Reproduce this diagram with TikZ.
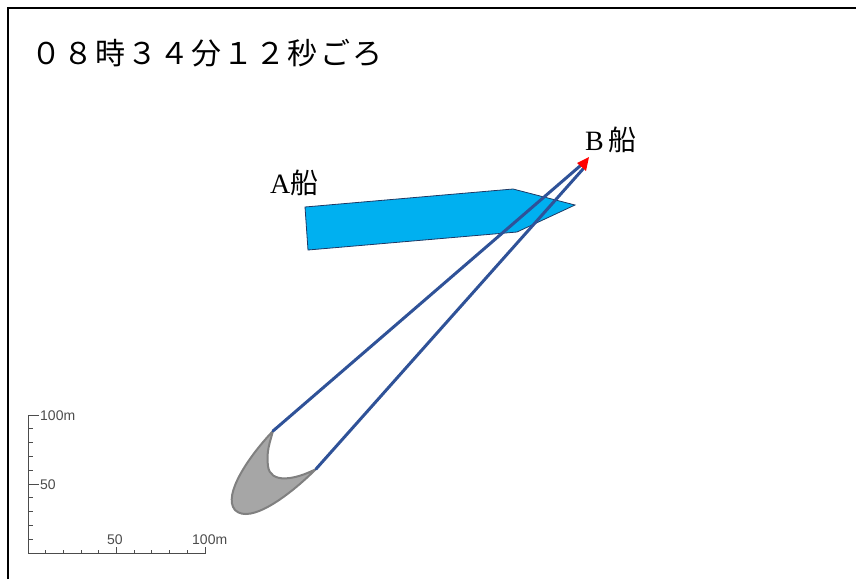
\documentclass[tikz,border=0pt]{standalone}
\usepackage{fontspec}
\setmainfont{Liberation Serif}
\newfontfamily\jpgothic{Noto Sans CJK JP}
\newfontfamily\jpwide[LetterSpace=7]{Noto Sans CJK JP}
\newfontfamily\rulerfont{Liberation Sans}
\usetikzlibrary{positioning}
\definecolor{hullcyan}{RGB}{0,176,240}
\definecolor{hulledge}{RGB}{31,56,100}
\definecolor{trackblue}{RGB}{47,82,152}
\definecolor{sterngray}{RGB}{166,166,166}
\definecolor{sternedge}{RGB}{128,128,128}
\tikzset{
    hullA/.style={fill=hullcyan, draw=hulledge, line width=0.8pt},
    track/.style={draw=trackblue, line width=3pt, line cap=round},
    stern/.style={fill=sterngray, draw=sternedge, line width=2pt},
    shiplabel/.style={inner sep=0pt, anchor=base west, font=\fontsize{28}{32}\selectfont},
    ruler/.style={draw=black!70, line width=1pt},
    rulerlabel/.style={inner sep=0pt, text=black!70, font=\rulerfont\fontsize{14}{16}\selectfont}
}

\begin{document}
\begin{tikzpicture}[x=1pt, y=-1pt]
    \useasboundingbox (0,0) rectangle (856,579);
    % frame
    \draw[line width=2pt] (8,579) -- (8,8) -- (856,8);

    \node[inner sep=0pt, anchor=base west, font=\jpwide\fontsize{30}{36}\selectfont] (title) at (31,64) {０８時３４分１２秒ごろ};

    % A vessel
    \filldraw[hullA] (305,207) -- (513,189) -- (575,205) -- (517,232) -- (308,250) -- cycle;
    \node[shiplabel] (labelA) at (270,193) {A{\jpgothic 船}};

    % B vessel: stern, sides and heading
    \coordinate (portAft) at (273,431);
    \coordinate (stbdAft) at (316,469);
    \coordinate (portFwd) at (580,166);
    \coordinate (stbdFwd) at (583,169);
    \filldraw[stern] (portAft) .. controls (250,455) and (222,495) .. (235,510)
        .. controls (250,525) and (290,495) .. (stbdAft)
        .. controls (295,480) and (270,484) .. (268,466)
        .. controls (266,452) and (270,442) .. (portAft) -- cycle;
    \draw[track] (portAft) -- (portFwd);
    \draw[track] (stbdAft) -- (stbdFwd);
    \coordinate (bowTip) at (589,157);
    \fill[red] (bowTip) -- (577,163) -- (586,171) -- cycle;
    \node[shiplabel] (labelB) at (585,150) {B\,{\jpgothic 船}};

    % distance scale
    \draw[ruler] (28,415) -- (28,553) -- (205,553) -- (205,547);
    \foreach \i in {1,...,9}
        \draw[ruler] (28,{553-\i*13.8}) -- ++(5,0);
    \draw[ruler] (28,415) -- ++(11,0);
    \draw[ruler] (28,484) -- ++(11,0);
    \foreach \i in {1,...,9}
        \draw[ruler] ({28+\i*17.7},553) -- ++(0,-3);
    \draw[ruler] (116.5,553) -- ++(0,-6);
    \node[rulerlabel, anchor=west] (v100) at (40,416) {100m};
    \node[rulerlabel, anchor=west] (v50) at (40,485) {50};
    \node[rulerlabel] (h50) at (115,540) {50};
    \node[rulerlabel, anchor=west] (h100) at (192,540) {100m};
\end{tikzpicture}
\end{document}
